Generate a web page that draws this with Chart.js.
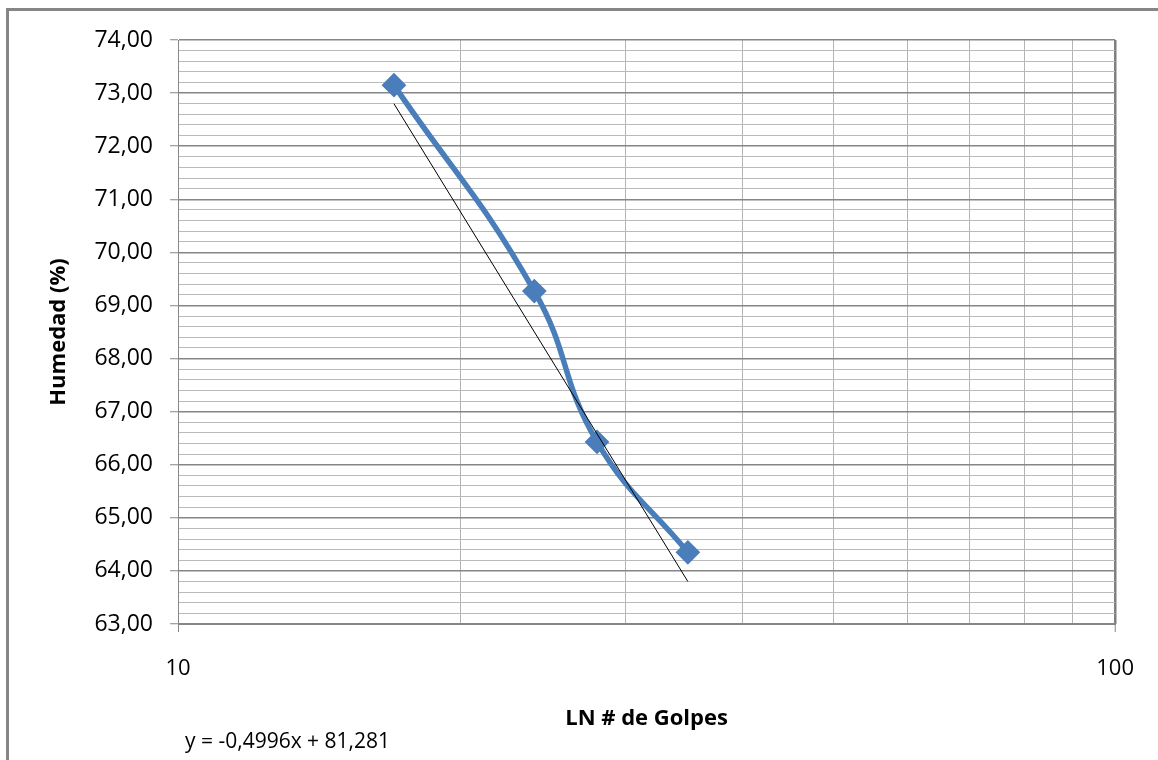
<!DOCTYPE html>
<html>
<head>
<meta charset="utf-8">
<script src="https://cdn.jsdelivr.net/npm/chart.js@4.4.1/dist/chart.umd.min.js"></script>
<style>
html,body{margin:0;padding:0;background:#fff;overflow:hidden}
#wrap{position:relative;width:1158px;height:760px}
</style>
</head>
<body>
<div id="wrap"><canvas id="c" width="1158" height="760"></canvas></div>
<script>
// ---- data ----
const golpes = [17, 24, 28, 35];
const humedad = [73.15, 69.27, 66.43, 64.35];
const trendX = [17, 35];
const trendY = [72.80, 63.80];
const xTickValues = [10, 20, 30, 40, 50, 60, 70, 80, 90, 100];
const xLabeled = [10, 100];
const yMin = 63, yMax = 74, yStep = 0.2;
const xMin = 10, xMax = 100;
const equationText = 'y = -0,4996x + 81,281';
const xTitle = 'LN # de Golpes';
const yTitle = 'Humedad (%)';

const FONT = "'Open Sans', 'Liberation Sans', sans-serif";
const isMajorY = v => Math.abs(v - Math.round(v)) < 1e-6;

const framePlugin = {
  id: 'frame',
  beforeDraw(chart) {
    const ctx = chart.ctx;
    ctx.save();
    ctx.fillStyle = '#fff';
    ctx.fillRect(0, 0, chart.width, chart.height);
    ctx.strokeStyle = '#868686';
    ctx.lineWidth = 3;
    ctx.beginPath();
    ctx.moveTo(7.5, chart.height + 10);
    ctx.lineTo(7.5, 9.5);
    ctx.lineTo(chart.width + 10, 9.5);
    ctx.stroke();
    ctx.restore();
  },
  afterDraw(chart) {
    const ctx = chart.ctx;
    ctx.save();
    ctx.fillStyle = '#000';
    ctx.font = '21px ' + FONT;
    ctx.textAlign = 'left';
    ctx.textBaseline = 'middle';
    ctx.fillText(equationText, 185, 742);
    ctx.restore();
  }
};

new Chart(document.getElementById('c'), {
  type: 'scatter',
  data: {
    datasets: [
      {
        label: 'Tendencia',
        data: trendX.map((x, i) => ({x: x, y: trendY[i]})),
        showLine: true,
        borderColor: '#000',
        borderWidth: 1,
        pointRadius: 0,
        tension: 0
      },
      {
        label: 'Humedad',
        data: golpes.map((g, i) => ({x: g, y: humedad[i]})),
        showLine: true,
        borderColor: '#4A7EBB',
        backgroundColor: '#4A7EBB',
        borderWidth: 5.5,
        pointStyle: 'rectRot',
        pointRadius: 8.5,
        pointBackgroundColor: '#4A7EBB',
        pointBorderColor: '#4A7EBB',
        tension: 0.45
      }
    ]
  },
  options: {
    responsive: false,
    animation: false,
    devicePixelRatio: 1,
    layout: {padding: {left: 0, top: 40, right: 42, bottom: 0}},
    plugins: {legend: {display: false}, tooltip: {enabled: false}},
    scales: {
      x: {
        type: 'logarithmic',
        min: xMin,
        max: xMax,
        afterBuildTicks: s => { s.ticks = xTickValues.map(v => ({value: v})); },
        afterFit: s => { s.height = 136; },
        ticks: {
          autoSkip: false,
          maxRotation: 0,
          padding: 24,
          color: '#000',
          font: {family: FONT, size: 22},
          callback: v => xLabeled.includes(v) ? String(v) : ''
        },
        grid: {
          color: c => (c.tick && c.tick.value === xMax) ? '#7f7f7f' : '#b4b4b4',
          lineWidth: c => (c.tick && c.tick.value === xMax) ? 2.5 : 1,
          drawTicks: true,
          tickLength: 8,
          tickWidth: 1,
          tickColor: c => (c.tick && xLabeled.includes(c.tick.value)) ? '#868686' : 'rgba(0,0,0,0)'
        },
        border: {display: true, color: '#868686', width: 1},
        title: {
          display: true,
          text: xTitle,
          color: '#000',
          font: {family: FONT, size: 22, weight: 'bold'},
          padding: {top: 0, bottom: 28}
        }
      },
      y: {
        type: 'linear',
        min: yMin,
        max: yMax,
        afterFit: s => { s.width = 178; },
        ticks: {
          stepSize: yStep,
          autoSkip: false,
          padding: 17,
          color: '#000',
          font: {family: FONT, size: 23},
          callback: v => isMajorY(v) ? v.toFixed(2).replace('.', ',') : ''
        },
        grid: {
          color: c => (c.tick && isMajorY(c.tick.value)) ? '#868686' : '#bababa',
          lineWidth: c => (c.tick && isMajorY(c.tick.value)) ? 1.5 : 1,
          drawTicks: true,
          tickLength: 8,
          tickWidth: 1,
          tickColor: c => (c.tick && isMajorY(c.tick.value)) ? '#868686' : 'rgba(0,0,0,0)'
        },
        border: {display: true, color: '#868686', width: 1},
        title: {
          display: true,
          text: yTitle,
          color: '#000',
          font: {family: FONT, size: 22, weight: 'bold'},
          padding: {top: 46, bottom: 0}
        }
      }
    }
  },
  plugins: [framePlugin]
});
</script>
</body>
</html>
